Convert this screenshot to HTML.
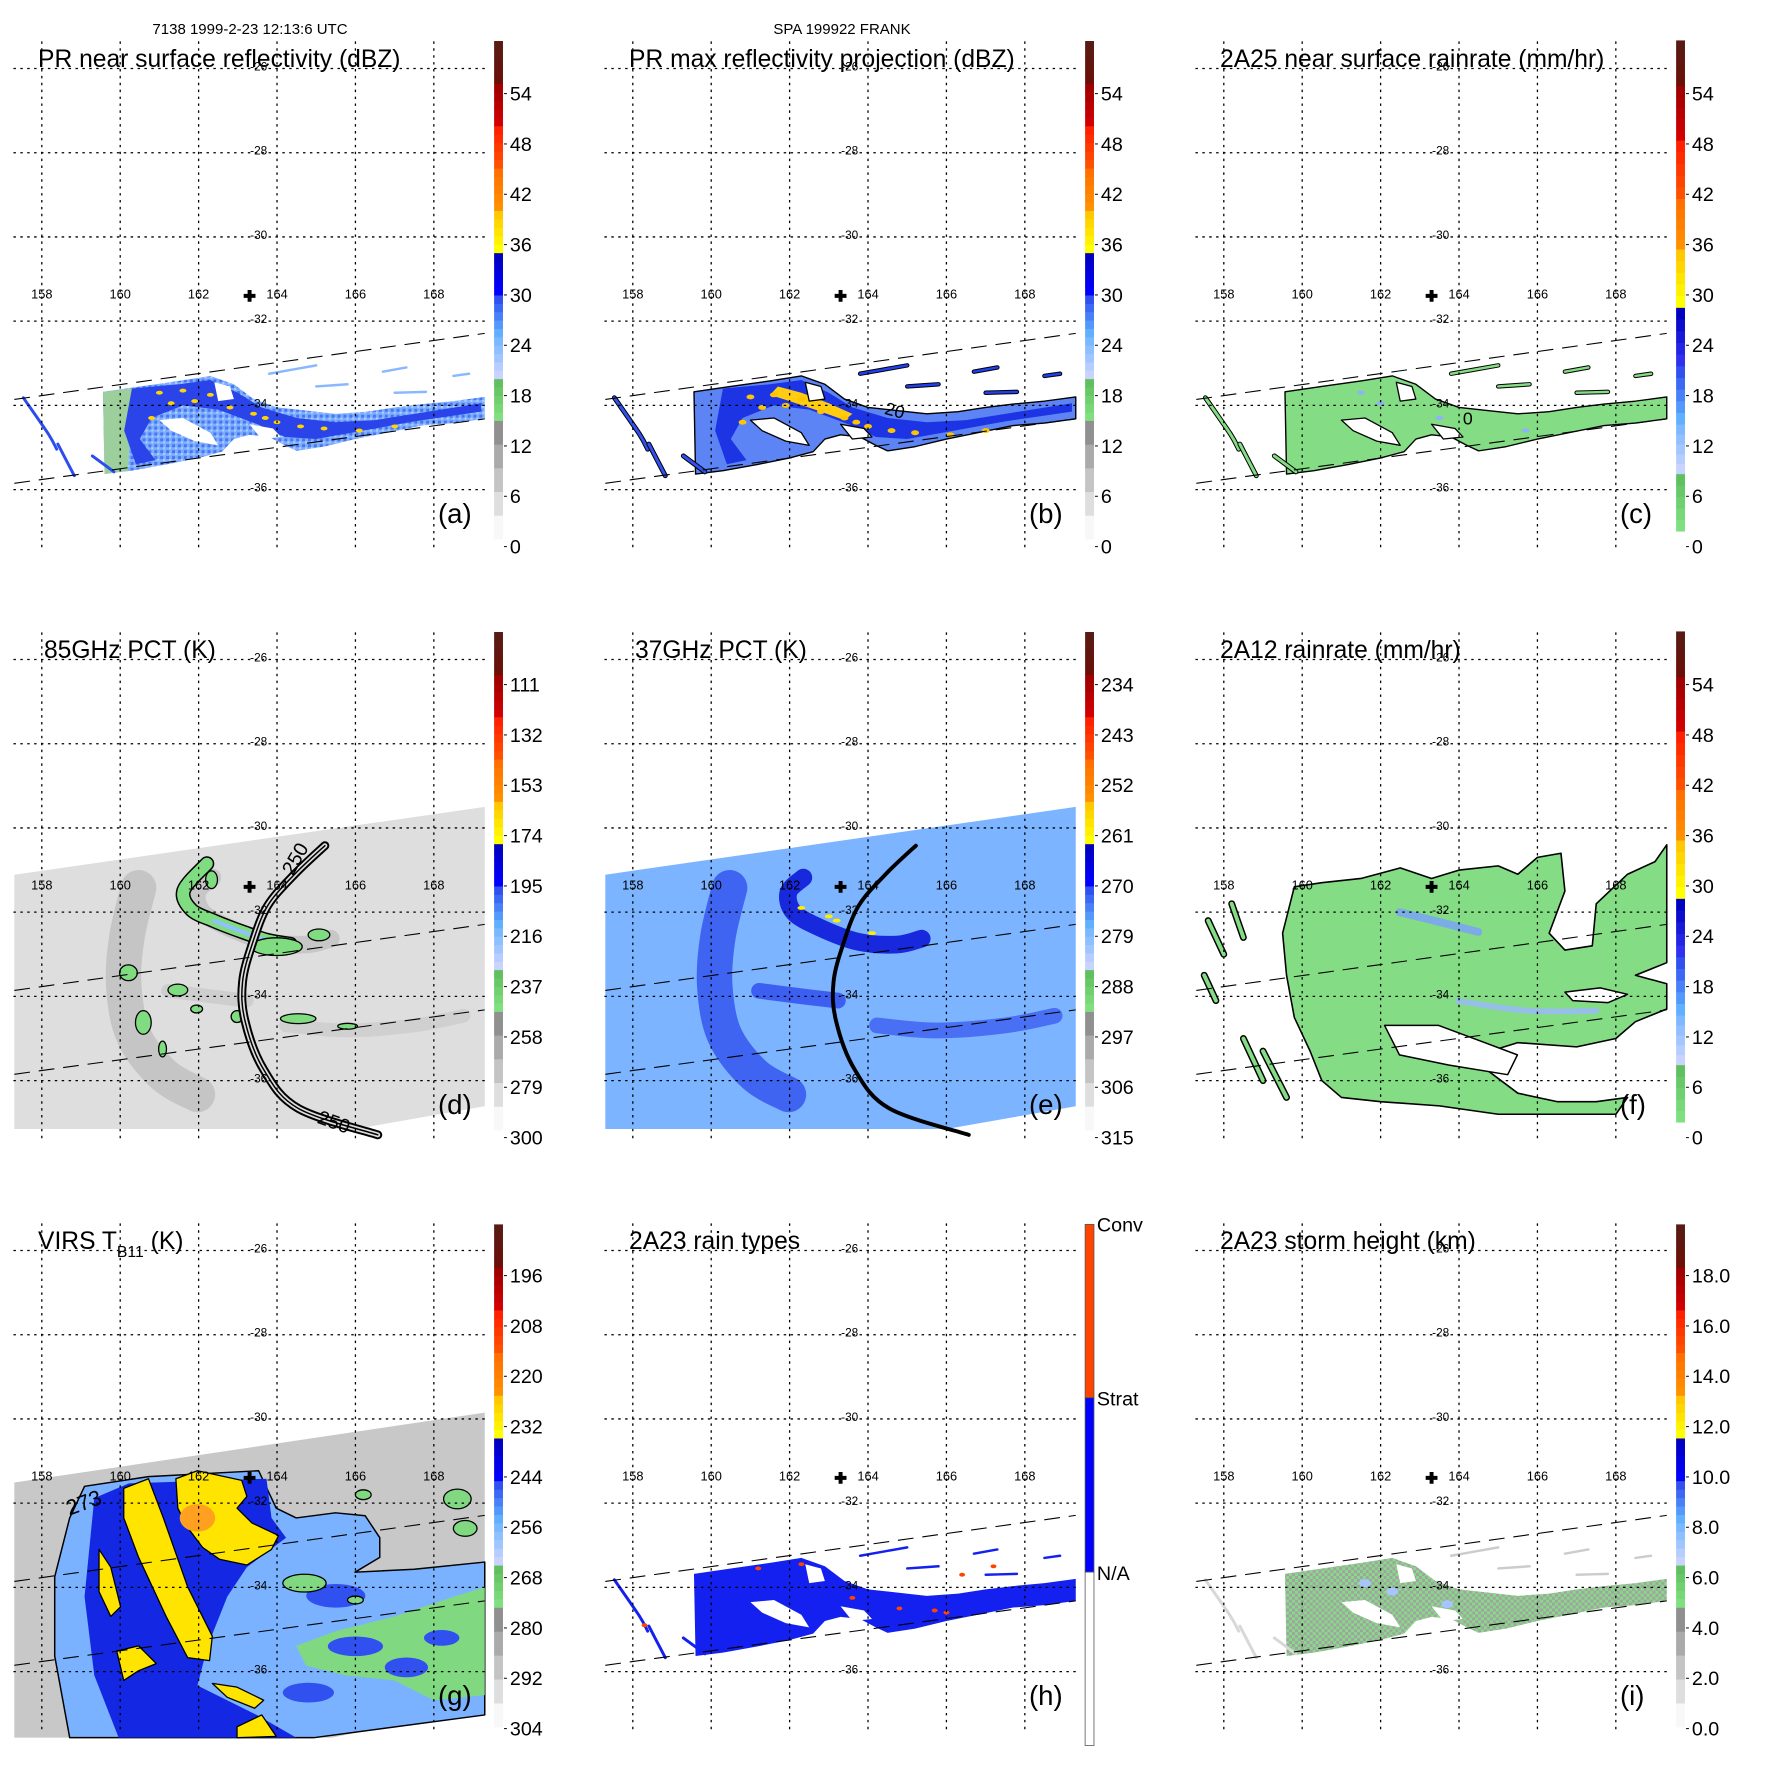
<!DOCTYPE html>
<html><head><meta charset="utf-8"><title>TRMM FRANK 1999</title>
<style>
html,body{margin:0;padding:0;background:#fff;}
svg{display:block;font-family:"Liberation Sans",Arial,sans-serif;}
</style></head>
<body>
<svg id="fig" xmlns="http://www.w3.org/2000/svg" width="1771" height="1771" viewBox="0 0 1771 1771">
<defs>
<pattern id="mottleA" width="6" height="6" patternUnits="userSpaceOnUse"><rect width="6" height="6" fill="#7aaeff"/><rect x="0" y="0" width="3" height="3" fill="#4a74f2"/><rect x="3" y="3" width="2" height="2" fill="#b8ccff"/></pattern>
<pattern id="mottleI" width="6" height="6" patternUnits="userSpaceOnUse"><rect width="6" height="6" fill="#a2a2a2"/><rect x="0" y="0" width="3" height="3" fill="#86dc86"/><rect x="3" y="3" width="3" height="3" fill="#86dc86"/></pattern>
</defs>
<rect x="0" y="0" width="1771" height="1771" fill="#ffffff"/>
<text x="250" y="34" font-size="15" text-anchor="middle">7138 1999-2-23 12:13:6 UTC</text>
<text x="842" y="34" font-size="15" text-anchor="middle">SPA 199922 FRANK</text>
</svg>
<script>
// ---------- axis data ----------
const lonTicks=[158,160,162,164,166,168];
const latTicks=[-26,-28,-30,-32,-34,-36];
const centerMark=[163.3,-31.4];
// colorbar labels
const labA=["54","48","42","36","30","24","18","12","6","0"];
const labD=["111","132","153","174","195","216","237","258","279","300"];
const labE=["234","243","252","261","270","279","288","297","306","315"];
const labG=["196","208","220","232","244","256","268","280","292","304"];
const labI=["18.0","16.0","14.0","12.0","10.0","8.0","6.0","4.0","2.0","0.0"];
const labH=["Conv","Strat","N/A"];
// swaths (lon,lat pairs)
const prTop=[157.3,-33.86,169.3,-32.29];
const prBot=[157.3,-35.85,169.3,-34.32];
const tmiSwath=[157.3,-31.11,169.3,-29.5,169.3,-36.61,166.0,-37.15,157.3,-37.15];
const virsSwath=[157.3,-31.51,169.3,-29.85,169.3,-36.84,165.4,-37.57,157.3,-37.57];
// PR storm
const storm=[159.56,-33.68,160.5,-33.55,161.5,-33.42,162.3,-33.3,162.9,-33.5,163.4,-33.85,164.0,-34.05,164.7,-34.12,165.5,-34.2,166.3,-34.15,167.0,-34.05,167.7,-33.97,168.5,-33.9,169.3,-33.8,169.3,-34.32,168.5,-34.42,167.7,-34.48,166.8,-34.65,166.0,-34.8,165.2,-34.98,164.5,-35.08,164.2,-34.95,163.8,-34.75,163.3,-34.7,162.9,-34.8,162.6,-35.1,162.0,-35.25,161.2,-35.4,160.3,-35.55,159.6,-35.63];
const core=[160.3,-33.6,161.5,-33.5,162.3,-33.4,163.0,-33.7,163.6,-34.05,164.5,-34.3,165.5,-34.4,166.5,-34.35,167.5,-34.2,169.2,-33.95,169.2,-34.15,167.5,-34.38,166.2,-34.6,165,-34.8,164.2,-34.75,163.5,-34.45,162.5,-34.1,161.6,-34.0,160.8,-34.3,160.5,-34.8,160.9,-35.3,160.4,-35.4,160.1,-34.6];
const holeA=[161.0,-34.35,161.6,-34.3,162.3,-34.65,162.5,-34.95,161.9,-34.85,161.3,-34.6];
const holeB=[162.4,-33.45,162.8,-33.55,162.9,-33.85,162.5,-33.9];
const holeC=[163.3,-34.45,163.9,-34.55,164.1,-34.75,163.6,-34.8];
const streaks=[[157.53,-33.82,158.16,-34.67,158.38,-35.04],[158.41,-34.92,158.83,-35.67],[159.29,-35.2,159.84,-35.58]];
const specks=[[163.8,-33.25,165.0,-33.05],[166.7,-33.2,167.3,-33.1],[165.0,-33.55,165.8,-33.5],[167.0,-33.7,167.8,-33.68],[168.5,-33.3,168.9,-33.25]];
const yellowA=[[161.0,-33.7],[161.6,-33.65],[161.9,-33.9],[162.8,-34.05],[163.4,-34.2],[164.0,-34.4],[165.2,-34.55],[166.1,-34.6],[167.0,-34.5],[160.8,-34.3],[161.3,-33.95],[162.3,-33.75],[163.7,-34.3],[164.6,-34.5]];
const yellowB=[161.7,-33.55,162.3,-33.7,163.0,-33.95,163.6,-34.2,163.4,-34.35,162.8,-34.15,162.0,-33.9,161.5,-33.75];
const convDots=[[161.2,-33.55],[162.3,-33.45],[163.6,-34.25],[164.8,-34.5],[166.0,-34.6],[165.7,-34.55],[158.3,-34.9],[167.2,-33.5],[166.4,-33.7]];
// TMI arcs
const arc250=[165.22,-30.42,164.45,-31.1,163.76,-31.85,163.37,-32.75,163.12,-33.66,163.18,-34.57,163.66,-35.74,164.54,-36.66,166.57,-37.29];
const bandUpper=[162.35,-31.18,161.97,-31.53,162.10,-32.0,162.73,-32.35,163.73,-32.70,164.74,-32.77,165.37,-32.63];
const bandLeft=[160.47,-31.42,160.17,-32.59,160.09,-33.75,160.34,-34.92,161.10,-35.86,161.97,-36.33];
const bandMid=[161.22,-33.87,162.23,-33.99,163.23,-34.1];
const bandRight=[164.23,-34.69,165.74,-34.81,167.5,-34.69,168.76,-34.46];
const greenCres=[162.21,-30.85,161.62,-31.48,161.81,-31.94,162.40,-32.21,163.18,-32.49,163.76,-32.67,164.34,-32.76];
const greenBlobs=[[161.47,-33.85,10,6],[160.21,-33.44,9,8],[160.59,-34.62,8,12],[161.08,-35.25,4,8],[161.95,-34.3,6,4],[164.54,-34.53,18,5],[165.07,-32.54,11,6],[165.8,-34.71,10,3],[162.98,-34.48,6,6],[163.99,-32.82,26,9],[162.33,-31.23,6,9]];
const yellowE=[[162.3,-31.9],[163.0,-32.1],[163.2,-32.2],[164.1,-32.5]];
// 2A12
const fMain=[159.8,-31.4,160.5,-31.3,161.5,-31.2,162.5,-30.95,163.3,-31.2,164.0,-31.0,165.0,-30.9,165.5,-31.1,166.0,-30.7,166.6,-30.6,166.7,-31.5,166.3,-32.5,166.7,-32.9,167.4,-32.8,167.5,-31.8,168.3,-31.1,169.0,-30.8,169.3,-30.4,169.3,-33.2,168.5,-33.5,169.3,-33.7,169.3,-34.3,168.5,-34.6,168.0,-35.0,167.0,-35.2,165.5,-35.1,164.8,-35.3,164.5,-35.6,165.5,-36.3,166.5,-36.5,167.5,-36.5,168.3,-36.4,168.0,-36.8,166.5,-36.8,165.0,-36.8,163.5,-36.6,162.0,-36.5,161.0,-36.4,160.5,-36.0,160.2,-35.3,159.8,-34.5,159.6,-33.5,159.5,-32.5];
const fHole=[162.10,-34.69,163.48,-34.69,164.49,-35.04,165.49,-35.39,165.24,-35.86,163.73,-35.63,162.48,-35.39];
const fHole2=[166.7,-33.9,167.6,-33.8,168.3,-33.95,167.8,-34.15,166.9,-34.1];
const fBlue1=[162.48,-32.0,163.48,-32.23,164.49,-32.47];
const fBlue2=[163.98,-34.11,165.74,-34.34,167.5,-34.34];
const fStreaks=[[157.6,-32.2,158.0,-33.0],[158.2,-31.8,158.5,-32.6],[158.5,-35.0,159.0,-36.0],[159.0,-35.3,159.6,-36.4],[157.5,-33.5,157.8,-34.1]];
// VIRS
const gCloud=[159.09,-31.60,160.72,-31.37,163.53,-31.23,163.98,-32.12,164.49,-32.35,165.49,-32.23,166.25,-32.30,166.62,-32.82,166.62,-33.29,165.99,-33.64,167.50,-33.57,169.30,-33.40,169.30,-37.03,164.94,-37.57,158.71,-37.57,158.33,-35.63,158.33,-33.75,158.71,-32.35];
const gDark=[159.34,-31.88,160.22,-31.53,163.73,-31.42,163.86,-32.35,164.23,-32.82,163.23,-33.52,162.73,-34.22,162.23,-35.39,161.97,-36.33,163.48,-37.03,164.49,-37.57,159.96,-37.57,159.34,-36.09,159.09,-34.22];
const gGreen=[164.49,-35.39,165.49,-35.04,167.0,-34.69,168.51,-34.22,169.30,-33.99,169.3,-36.56,168.0,-36.68,167.0,-36.21,165.74,-36.09,164.74,-35.86];
const gBlueBlobs=[[166.0,-35.4,28,10],[167.3,-35.9,22,10],[165.5,-34.2,30,12],[168.2,-35.2,18,8],[164.8,-36.5,26,10]];
const gIslands=[[168.6,-31.9,14,10],[168.8,-32.6,12,8],[166.2,-31.8,8,5],[164.7,-33.9,22,9],[166.0,-34.3,8,4]];
const gY1=[160.09,-31.65,160.72,-31.42,161.10,-32.35,161.72,-33.99,162.35,-35.16,162.28,-35.74,161.72,-35.67,161.17,-34.69,160.47,-33.29,160.09,-32.35];
const gY2=[161.42,-31.42,161.97,-31.23,163.10,-31.46,163.23,-31.84,162.98,-32.12,163.36,-32.47,164.04,-32.77,163.86,-33.10,163.23,-33.47,162.53,-33.33,162.10,-33.05,161.72,-32.58,161.47,-32.12];
const gY3=[159.46,-33.10,159.76,-33.52,160.01,-34.46,159.76,-34.69,159.46,-34.10];
const gY4=[159.91,-35.51,160.47,-35.39,160.92,-35.81,160.47,-35.98,160.09,-36.21];
const gY5=[162.35,-36.28,162.98,-36.37,163.66,-36.68,163.43,-36.87,162.73,-36.61];
const gY6=[162.98,-37.31,163.61,-37.03,163.98,-37.54,162.98,-37.57];
const gOrange=[161.97,-32.35];

// ---------- colour schemes ----------
const schemeA=[[0,0.238,'#f8f8f8','#909090'],[0.238,0.322,'#80e080','#60c060'],[0.322,0.406,'#c8d4ff','#7ab8ff'],[0.406,0.49,'#60b0ff','#3050f0'],[0.49,0.575,'#0000ff','#0000c0'],[0.575,0.66,'#ffff00','#ffc800'],[0.66,0.745,'#ff9000','#ff7000'],[0.745,0.83,'#ff5000','#ff2000'],[0.83,0.915,'#d00000','#a00000'],[0.915,1,'#6a1008','#5a1a14']];
const schemeC=[[0,0.117,'#80e080','#60c060'],[0.117,0.218,'#c8d4ff','#80b8ff'],[0.218,0.337,'#60b0ff','#3050f0'],[0.337,0.456,'#3030f0','#0000c0'],[0.456,0.575,'#ffff00','#ffc800'],[0.575,0.678,'#ff9000','#ff7000'],[0.678,0.797,'#ff5000','#ff2000'],[0.797,0.908,'#d00000','#a00000'],[0.908,1,'#6a1008','#5a1a14']];

const NS='http://www.w3.org/2000/svg';
const svg=document.getElementById('fig');
function X(lon){return 41.8+(lon-158)*39.8;}
function Y(lat){return 68.5+(-26-lat)*42.75;}
function pts(a){let s=[];for(let i=0;i<a.length;i+=2)s.push(X(a[i]).toFixed(1)+','+Y(a[i+1]).toFixed(1));return s.join(' ');}
function smooth(a){
  const p=[];for(let i=0;i<a.length;i+=2)p.push([X(a[i]),Y(a[i+1])]);
  let d='M'+p[0][0].toFixed(1)+' '+p[0][1].toFixed(1);
  for(let i=0;i<p.length-1;i++){const p0=p[Math.max(0,i-1)],p1=p[i],p2=p[i+1],p3=p[Math.min(p.length-1,i+2)];
    d+=' C'+(p1[0]+(p2[0]-p0[0])/6).toFixed(1)+' '+(p1[1]+(p2[1]-p0[1])/6).toFixed(1)+' '+(p2[0]-(p3[0]-p1[0])/6).toFixed(1)+' '+(p2[1]-(p3[1]-p1[1])/6).toFixed(1)+' '+p2[0].toFixed(1)+' '+p2[1].toFixed(1);}
  return d;}
function mk(tag,attrs,parent){const e=document.createElementNS(NS,tag);for(const k in attrs)e.setAttribute(k,attrs[k]);parent.appendChild(e);return e;}
function hex(c){return [parseInt(c.slice(1,3),16),parseInt(c.slice(3,5),16),parseInt(c.slice(5,7),16)];}
function mix(a,b,t){const A=hex(a),B=hex(b);return 'rgb('+A.map((v,i)=>Math.round(v+(B[i]-v)*t)).join(',')+')';}

function poly(g,a,fill,name,stroke,sw){const e=mk('polygon',{points:pts(a),fill:fill,stroke:stroke||'none','stroke-width':sw||0,'stroke-linejoin':'round'},g);
  
  return e;}
function band(g,a,color,w,name,op){const e=mk('path',{d:smooth(a),fill:'none',stroke:color,'stroke-width':w,'stroke-linecap':'round','stroke-linejoin':'round',opacity:op||1},g);
  
  return e;}
function blob(g,lon,lat,rx,ry,fill,name,stroke){const e=mk('ellipse',{cx:X(lon),cy:Y(lat),rx:rx,ry:ry,fill:fill,stroke:stroke||'none','stroke-width':stroke?1.3:0},g);
  
  return e;}

const SC=0.985;
function panel(col,row,key){
  const tx=col*591+42*(1-SC), ty=row*591+68*(1-SC);
  const g=mk('g',{transform:'translate('+tx.toFixed(2)+','+ty.toFixed(2)+') scale('+SC+')'},svg);
  
  
  return g;}
function field(g,key){const f=mk('g',{},g);return f;}

function grid(g){
  const gg=mk('g',{},g);
  
  
  latTicks.forEach(l=>{const ln=mk('line',{x1:13,x2:492,y1:Y(l),y2:Y(l),stroke:'#000','stroke-width':1.3,'stroke-dasharray':'2.5,4.5'},gg);
    
    
    const t=mk('text',{x:262,y:Y(l)+2,'font-size':12,'text-anchor':'middle'},gg);t.textContent=l;
    
    });
  lonTicks.forEach(l=>{const ln=mk('line',{x1:X(l),x2:X(l),y1:41,y2:555,stroke:'#000','stroke-width':1.3,'stroke-dasharray':'2.5,4.5'},gg);
    
    
    const t=mk('text',{x:X(l),y:302,'font-size':13,'text-anchor':'middle'},gg);t.textContent=l;
    
    });
  const cx=X(centerMark[0]),cy=Y(centerMark[1]);
  const c=mk('path',{d:'M'+(cx-6)+' '+cy+'h12M'+cx+' '+(cy-6)+'v12',stroke:'#000','stroke-width':4},gg);
  
  
}
function prEdges(g){[prTop,prBot].forEach(a=>{const l=mk('polyline',{points:pts(a),fill:'none',stroke:'#000','stroke-width':1.1,'stroke-dasharray':'16,9'},g);
  
  });}
function titleT(g,txt,x){const t=mk('text',{x:x,y:67,'font-size':25},g);t.textContent=txt;
  
  return t;}
function letter(g,l){const t=mk('text',{x:444,y:530,'font-size':28},g);t.textContent='('+l+')';
  
  }
function colorbar(g,scheme,labels,top,bot){
  const cb=mk('g',{},g);
  
  
  const H=bot-top;
  scheme.forEach(z=>{const n=5;for(let k=0;k<n;k++){const f0=z[0]+(z[1]-z[0])*k/n,f1=z[0]+(z[1]-z[0])*(k+1)/n;
    mk('rect',{x:501,y:(bot-f1*H).toFixed(2),width:9,height:(H*(f1-f0)+0.6).toFixed(2),fill:mix(z[2],z[3],k/(n-1))},cb);}});
  labels.forEach((s,i)=>{const y=94+i*51.1;
    mk('line',{x1:511,x2:514,y1:y,y2:y,stroke:'#000','stroke-width':1},cb);
    const t=mk('text',{x:517,y:y+7,'font-size':20},cb);t.textContent=s;
    
    });
}
function stormBase(f,fill,stroke,name){poly(f,storm,fill,name,stroke,stroke?1.4:0);}
function holes(f,stroke){[holeA,holeB,holeC].forEach(h=>poly(f,h,'#ffffff','rain-gap',stroke,stroke?1.3:0));}
function leftStreaks(f,color,outline){streaks.forEach(s=>{if(outline)band(f,s,'#000',5,'streak-outline');band(f,s,color,3,'rain-streak');});}
function speckLines(f,color,outline){specks.forEach(s=>{if(outline)band(f,s,'#000',4.5,'speck-outline');band(f,s,color,2.5,'rain-speck');});}

// ===== (a) =====
{const g=panel(0,0,'a');const f=field(g,'a');
 stormBase(f,'url(#mottleA)');
 poly(f,[159.56,-33.68,160.3,-33.6,160.2,-35.55,159.6,-35.63],'#9ccf9c','green-fringe');
 poly(f,core,'#2a44ea','core-band');
 holes(f);
 leftStreaks(f,'#2a4cf0');speckLines(f,'#8ab8ff');
 yellowA.forEach(p=>blob(f,p[0],p[1],3.5,2,'#ffd400','yellow-cell'));
 prEdges(g);grid(g);titleT(g,'PR near surface reflectivity (dBZ)',38);letter(g,'a');colorbar(g,schemeA,labA,40.6,546);}
// ===== (b) =====
{const g=panel(1,0,'b');const f=field(g,'b');
 stormBase(f,'#5c84f4','#000');
 poly(f,core,'#1c34e4','core-band');
 poly(f,yellowB,'#ffcc10','max-refl-band');
 yellowA.forEach(p=>blob(f,p[0],p[1]-0.1,4,2.5,'#ffc400','yellow-cell'));
 holes(f,'#000');
 leftStreaks(f,'#3050f0',true);speckLines(f,'#2040f0',true);
 const t=mk('text',{x:X(164.4),y:Y(-34.2),'font-size':18,transform:'rotate(15 '+X(164.4)+' '+Y(-34.2)+')'},f);t.textContent='20';
 
 
 prEdges(g);grid(g);titleT(g,'PR max reflectivity projection (dBZ)',38);letter(g,'b');colorbar(g,schemeA,labA,40.6,546);}
// ===== (c) =====
{const g=panel(2,0,'c');const f=field(g,'c');
 stormBase(f,'#84dc84','#000');
 holes(f,'#000');
 [[161.5,-33.7],[162.0,-33.95],[163.5,-34.3],[165.7,-34.6]].forEach(p=>blob(f,p[0],p[1],4,2,'#8fb0ff','rain-cell'));
 leftStreaks(f,'#84dc84',true);speckLines(f,'#84dc84',true);
 const t=mk('text',{x:X(164.1),y:Y(-34.45),'font-size':18},f);t.textContent='0';
 
 
 prEdges(g);grid(g);titleT(g,'2A25 near surface rainrate (mm/hr)',38);letter(g,'c');colorbar(g,schemeC,labA,40,538);}
// ===== (d) =====
{const g=panel(0,1,'d');const f=field(g,'d');
 poly(f,tmiSwath,'#dedede','tmi-swath');
 band(f,bandLeft,'#bcbcbc',36,'cold-band',0.75);
 band(f,bandUpper,'#c0c0c0',18,'cold-band',0.8);
 band(f,bandMid,'#c8c8c8',14,'cold-band',0.7);
 band(f,bandRight,'#cacaca',14,'cold-band',0.7);
 band(f,greenCres,'#000',15,'pct-contour');
 band(f,greenCres,'#80dc80',12,'pct-band');
 band(f,greenCres.slice(6),'#90c0ff',4,'pct-core');
 greenBlobs.forEach(b=>blob(f,b[0],b[1],b[2],b[3],'#80dc80','pct-blob','#000'));
 band(f,arc250,'#000',9,'contour-250-outer');
 band(f,arc250,'#dcdcdc',5,'contour-250-gap');
 band(f,arc250,'#000',1.5,'contour-250-inner');
 const t1=mk('text',{x:X(164.4),y:Y(-31.15),'font-size':20,transform:'rotate(-60 '+X(164.4)+' '+Y(-31.15)+')'},f);t1.textContent='250';
 
 
 const t2=mk('text',{x:X(165.0),y:Y(-37.0),'font-size':20,transform:'rotate(20 '+X(165.0)+' '+Y(-37.0)+')'},f);t2.textContent='250';
 
 
 prEdges(g);grid(g);titleT(g,'85GHz PCT (K)',44);letter(g,'d');colorbar(g,schemeA,labD,40.6,546);}
// ===== (e) =====
{const g=panel(1,1,'e');const f=field(g,'e');
 poly(f,tmiSwath,'#7cb4ff','tmi-swath');
 band(f,bandLeft,'#3050ee',36,'cold-band',0.8);
 band(f,bandUpper,'#1828dc',18,'cold-band');
 band(f,bandMid,'#2c48ee',16,'cold-band',0.8);
 band(f,bandRight,'#3858f0',16,'cold-band',0.75);
 yellowE.forEach(p=>blob(f,p[0],p[1],4,2,'#ffee00','yellow-cell'));
 band(f,arc250,'#000',4,'contour-250');
 prEdges(g);grid(g);titleT(g,'37GHz PCT (K)',44);letter(g,'e');colorbar(g,schemeA,labE,40.6,546);}
// ===== (f) =====
{const g=panel(2,1,'f');const f=field(g,'f');
 poly(f,fMain,'#84dc84','rain-area','#000',1.6);
 poly(f,fHole,'#ffffff','rain-gap','#000',1.5);
 poly(f,fHole2,'#ffffff','rain-gap','#000',1.5);
 band(f,fBlue1,'#7aa0ff',8,'heavy-rain-band',0.8);
 band(f,fBlue2,'#9ab8ff',6,'heavy-rain-band',0.8);
 fStreaks.forEach(s=>{band(f,s,'#000',7,'streak-outline');band(f,s,'#84dc84',4,'rain-streak');});
 prEdges(g);grid(g);titleT(g,'2A12 rainrate (mm/hr)',38);letter(g,'f');colorbar(g,schemeC,labA,40,538);}
// ===== (g) =====
{const g=panel(0,2,'g');const f=field(g,'g');
 poly(f,virsSwath,'#c8c8c8','virs-swath');
 poly(f,gCloud,'#7ab2ff','cloud-shield','#000',1.5);
 poly(f,gGreen,'#80d880','warm-cloud',null,0);
 gBlueBlobs.forEach(b=>blob(f,b[0],b[1],b[2],b[3],'#3050f0','cold-cell'));
 gIslands.forEach(b=>blob(f,b[0],b[1],b[2],b[3],'#80d880','cloud-island','#000'));
 poly(f,gDark,'#1428e4','cold-cloud');
 [gY1,gY2,gY3,gY4,gY5,gY6].forEach(a=>poly(f,a,'#ffe400','very-cold-cloud','#000',1.3));
 blob(f,gOrange[0],gOrange[1],18,14,'#ffa020','coldest-top');
 const t=mk('text',{x:X(158.7),y:Y(-32.3),'font-size':22,transform:'rotate(-20 '+X(158.7)+' '+Y(-32.3)+')'},f);t.textContent='273';
 
 
 prEdges(g);grid(g);
 const tt=mk('text',{x:38,y:67,'font-size':25},g);
 
 
 tt.innerHTML='VIRS T<tspan font-size="16" dy="8">B11</tspan><tspan dy="-8"> (K)</tspan>';
 letter(g,'g');colorbar(g,schemeA,labG,42,552);}
// ===== (h) =====
{const g=panel(1,2,'h');const f=field(g,'h');
 stormBase(f,'#1420f0');
 holes(f);
 leftStreaks(f,'#1420f0');speckLines(f,'#1420f0');
 convDots.forEach(p=>blob(f,p[0],p[1],3,2,'#ff4400','convective-pixel'));
 prEdges(g);grid(g);titleT(g,'2A23 rain types',38);letter(g,'h');
 const cb=mk('g',{},g);
 
 
 mk('rect',{x:501,y:42,width:9,height:176,fill:'#ff4400',stroke:'#555','stroke-width':0.8},cb);
 mk('rect',{x:501,y:218,width:9,height:177,fill:'#0000ff',stroke:'#555','stroke-width':0.8},cb);
 mk('rect',{x:501,y:395,width:9,height:176,fill:'#ffffff',stroke:'#555','stroke-width':0.8},cb);
 [49,226,403].forEach((y,i)=>{const t=mk('text',{x:513,y:y,'font-size':20},cb);t.textContent=labH[i];
   
   });}
// ===== (i) =====
{const g=panel(2,2,'i');const f=field(g,'i');
 stormBase(f,'url(#mottleI)');
 holes(f);
 leftStreaks(f,'#d8d8d8');speckLines(f,'#cccccc');
 [[161.6,-33.9],[162.3,-34.1],[163.7,-34.4]].forEach(p=>blob(f,p[0],p[1],6,4,'#a8c4ff','echo-top-cell'));
 prEdges(g);grid(g);titleT(g,'2A23 storm height (km)',38);letter(g,'i');colorbar(g,schemeA,labI,42,552);}
</script>
</body></html>
